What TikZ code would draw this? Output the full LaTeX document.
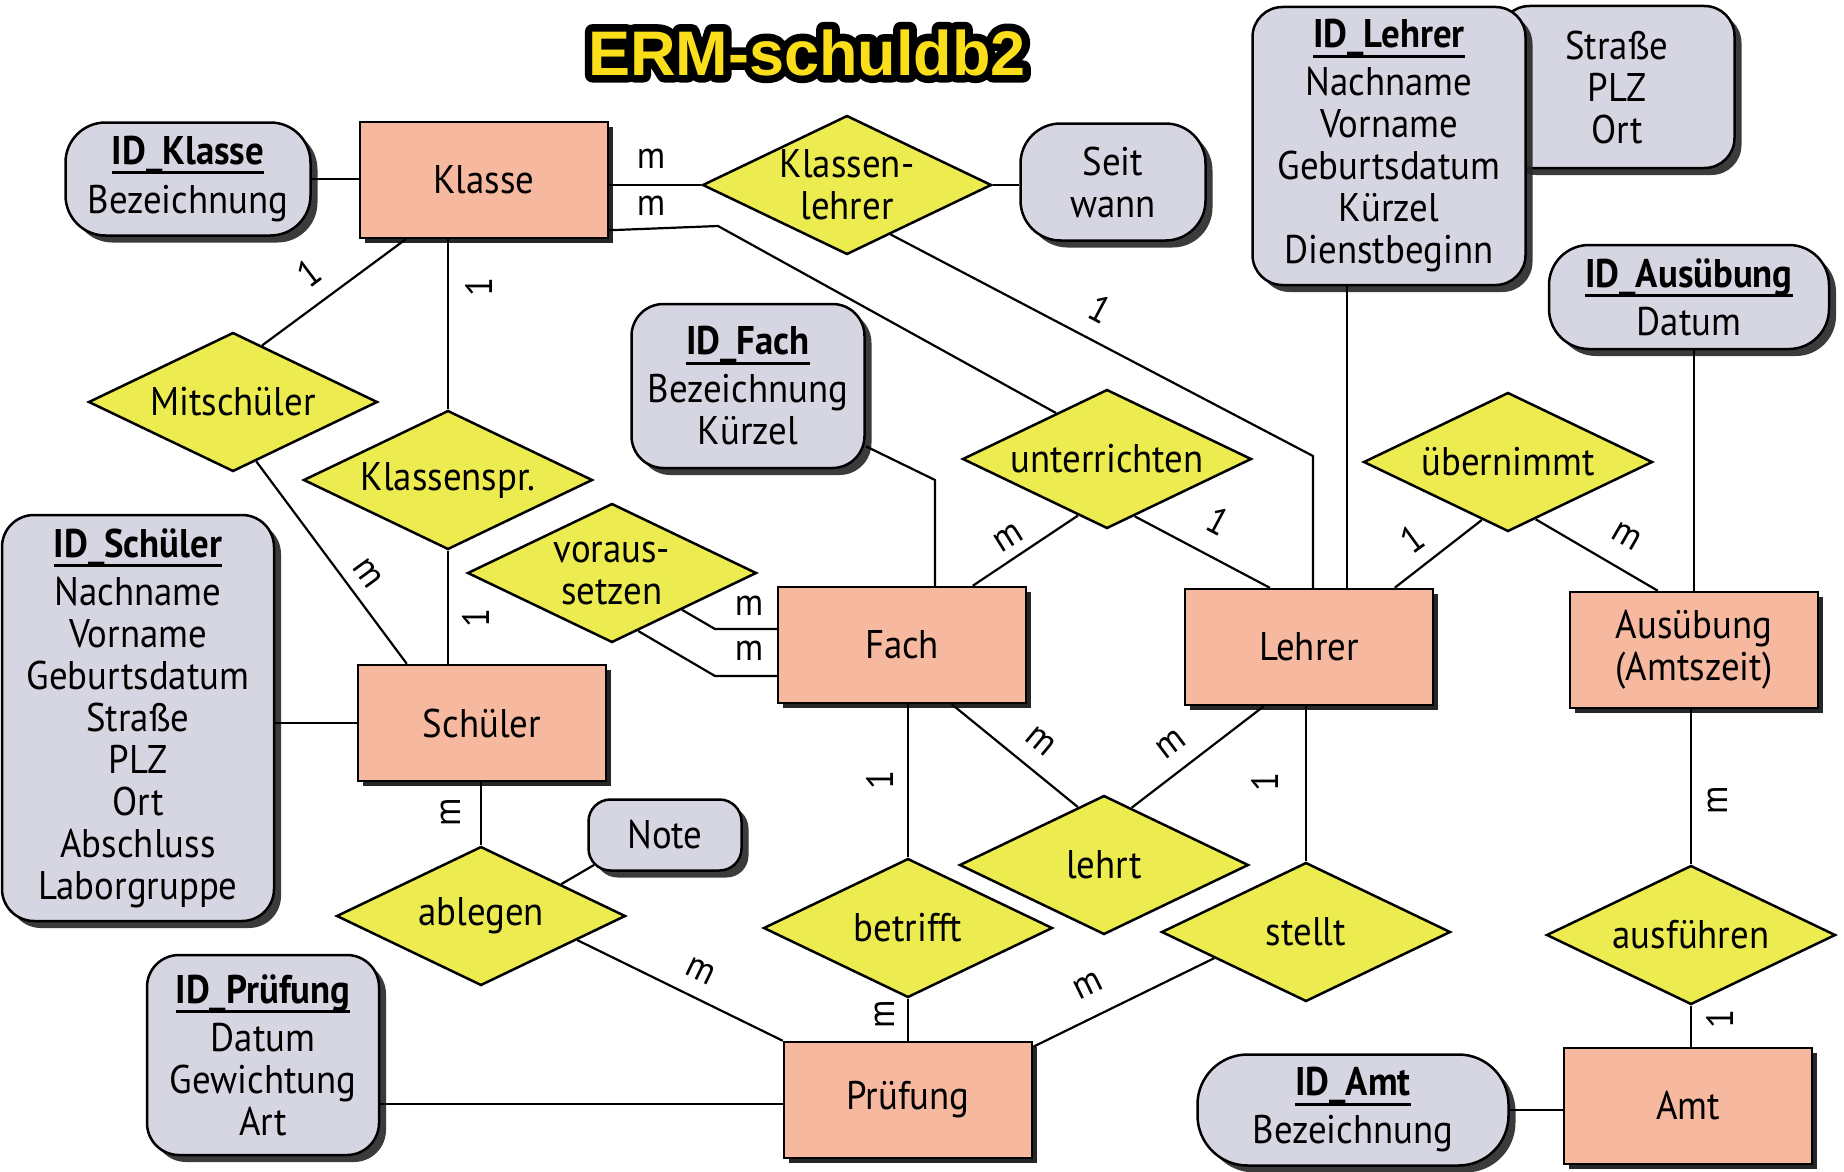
\documentclass[tikz,border=0pt]{standalone}
\usepackage{fontspec}
\setmainfont{PT Sans}[FakeStretch=0.92]
\newfontfamily\titlefam{Liberation Sans}
\usetikzlibrary{shapes.geometric,calc,shadows}
\definecolor{entfill}{RGB}{246,184,158}
\definecolor{attfill}{RGB}{214,214,226}
\definecolor{relfill}{RGB}{236,236,80}
\definecolor{titley}{RGB}{250,222,26}
\newcommand\ulkey[1]{\setbox0=\hbox{\bfseries #1}\rlap{\rule[-10pt]{\wd0}{3pt}}\box0}
\tikzset{
 erbase/.style={line width=2.5pt, draw=black, align=center, inner sep=0pt, font=\fontsize{40}{42}\selectfont},
 entity/.style={erbase, rectangle, fill=entfill, minimum width=248pt, minimum height=116pt,
   drop shadow={shadow xshift=5pt,shadow yshift=-5pt,fill=black,opacity=0.85}},
 attr/.style={erbase, rectangle, rounded corners=#1, fill=attfill,
   drop shadow={shadow xshift=7pt,shadow yshift=-7pt,fill=black!85,opacity=0.9}},
 attr/.default=32pt,
 rel/.style={erbase, diamond, shape aspect=2.08, inner sep=-12pt, fill=relfill, minimum width=289pt, minimum height=139pt},
 conn/.style={line width=2.2pt, draw=black},
 card/.style={font=\fontsize{38}{40}\selectfont, inner sep=0pt},
 titlestyle/.style={font=\titlefam\bfseries\fontsize{63}{70}\selectfont, anchor=base, inner sep=0pt},
}
\begin{document}
\begin{tikzpicture}[x=1pt,y=-1pt]
\useasboundingbox (0,0) rectangle (1844,1172);
\fill[white] (0,0) rectangle (1844,1172);

% title: thick black outline drawn as stroked text, yellow text on top
\coordinate (titlepos) at (807,75);
\node[titlestyle,text=black] (titleoutline) at (titlepos) {\special{pdf:literal direct 2 Tr 15 w 1 j}ERM-schuldb2\special{pdf:literal direct 0 Tr}};
\node[titlestyle,text=titley] (title) at (titlepos) {ERM-schuldb2};

% attributes
\node[attr=40pt, minimum width=245pt, minimum height=113pt] (idklasse) at (188,179) {\ulkey{ID\_Klasse}\\[7pt]Bezeichnung};
\node[attr=40pt, minimum width=185pt, minimum height=117pt] (seitwann) at (1113,182) {Seit\\wann};
\node[attr=30pt, minimum width=235pt, minimum height=162pt] (strasse) at (1617,87) {Straße\\PLZ\\Ort};
\node[attr=30pt, minimum width=273pt, minimum height=278pt] (idlehrer) at (1389,146) {\ulkey{ID\_Lehrer}\\[6pt]Nachname\\Vorname\\Geburtsdatum\\Kürzel\\Dienstbeginn};
\node[attr=40pt, minimum width=280pt, minimum height=104pt] (idausuebung) at (1689,297) {\ulkey{ID\_Ausübung}\\[6pt]Datum};
\node[attr=32pt, minimum width=233pt, minimum height=164pt] (idfach) at (748,386) {\ulkey{ID\_Fach}\\[6pt]Bezeichnung\\Kürzel};
\node[attr=32pt, minimum width=272pt, minimum height=406pt] (idschueler) at (138,718) {\ulkey{ID\_Schüler}\\[6pt]Nachname\\Vorname\\Geburtsdatum\\Straße\\PLZ\\Ort\\Abschluss\\Laborgruppe};
\node[attr=22pt, minimum width=153pt, minimum height=71pt] (note) at (665,835) {Note};
\node[attr=32pt, minimum width=232pt, minimum height=200pt] (idpruefung) at (263,1055) {\ulkey{ID\_Prüfung}\\[6pt]Datum\\Gewichtung\\Art};
\node[attr=50pt, minimum width=311pt, minimum height=111pt] (idamt) at (1353,1110) {\ulkey{ID\_Amt}\\[6pt]Bezeichnung};

% entities
\node[entity] (klasse) at (484,180) {Klasse};
\node[entity] (schueler) at (482,723) {Schüler};
\node[entity] (fach) at (902,645) {Fach};
\node[entity] (lehrer) at (1309,647) {Lehrer};
\node[entity] (ausuebung) at (1694,650) {Ausübung\\(Amtszeit)};
\node[entity] (pruefung) at (908,1100) {Prüfung};
\node[entity] (amt) at (1688,1106) {Amt};

% relationships
\node[rel] (kl) at (847,185) {Klassen-\\lehrer};
\node[rel] (mit) at (233,402) {Mitschüler};
\node[rel] (kspr) at (448,480) {Klassenspr.};
\node[rel] (vor) at (612,573) {voraus-\\setzen};
\node[rel] (unt) at (1107,459) {unterrichten};
\node[rel] (ueb) at (1508,462) {übernimmt};
\node[rel] (abl) at (481,916) {ablegen};
\node[rel] (betr) at (908,928) {betrifft};
\node[rel] (lehrt) at (1104,865) {lehrt};
\node[rel] (st) at (1306,932) {stellt};
\node[rel] (aus) at (1691,935) {ausführen};

% helper coordinates
\coordinate (kbend) at (718,226);
\coordinate (lbend) at (1313,456);
\coordinate (v1) at (715,629);
\coordinate (v2) at (715,676);
\coordinate (fbend) at (935,480);
\coordinate (lx) at (1347,300);
\coordinate (notecorner) at (594,865);
\coordinate (pq) at (379,1104);

% connectors
\draw[conn] (idklasse.east) -- (idklasse.east -| klasse.west);
\draw[conn] (kl.west -| klasse.east) -- (kl.west);
\draw[conn] (kl.east) -- (kl.east -| seitwann.west);
\draw[conn] ($(klasse.south east)+(0,-9)$) -- (kbend) -- ($(unt.west)!0.65!(unt.north)$);
\draw[conn] ($(kl.south)!0.3!(kl.east)$) -- (lbend) -- (lbend |- lehrer.north);
\draw[conn] ($(klasse.south west)+(47,0)$) -- ($(mit.north)!0.2!(mit.east)$);
\draw[conn] (kspr.north |- klasse.south) -- (kspr.north);
\draw[conn] ($(mit.south)!0.16!(mit.east)$) -- ($(schueler.north west)+(50,0)$);
\draw[conn] (kspr.south) -- (kspr.south |- schueler.north);
\draw[conn] (idschueler.east |- schueler.west) -- (schueler.west);
\draw[conn] ($(vor.south)!0.48!(vor.east)$) -- (v1) -- (v1 -| fach.west);
\draw[conn] ($(vor.south)!0.18!(vor.east)$) -- (v2) -- (v2 -| fach.west);
\draw[conn] ($(idfach.south east)+(0,-23)$) -- (fbend) -- (fbend |- fach.north);
\draw[conn] ($(fach.north west)+(196,0)$) -- ($(unt.west)!0.8!(unt.south)$);
\draw[conn] ($(unt.south)!0.19!(unt.east)$) -- ($(lehrer.north west)+(86,0)$);
\draw[conn] (lx |- idlehrer.south) -- (lx |- lehrer.north);
\draw[conn] ($(lehrer.north west)+(211,0)$) -- ($(ueb.west)!0.82!(ueb.south)$);
\draw[conn] ($(ueb.south)!0.19!(ueb.east)$) -- ($(ausuebung.north west)+(89,0)$);
\draw[conn] (ausuebung.north |- idausuebung.south) -- (ausuebung.north);
\draw[conn] (abl.north |- schueler.south) -- (abl.north);
\draw[conn] ($(abl.north)!0.55!(abl.east)$) -- (notecorner);
\draw[conn] ($(abl.south)!0.66!(abl.east)$) -- (pruefung.north west);
\draw[conn] (pq) -- (pq -| pruefung.west);
\draw[conn] (betr.north |- fach.south) -- (betr.north);
\draw[conn] (betr.south) -- (betr.south |- pruefung.north);
\draw[conn] ($(fach.south west)+(175,0)$) -- ($(lehrt.west)!0.82!(lehrt.north)$);
\draw[conn] ($(lehrer.south west)+(80,0)$) -- ($(lehrt.north)!0.19!(lehrt.east)$);
\draw[conn] (st.north |- lehrer.south) -- (st.north);
\draw[conn] ($(st.west)!0.37!(st.south)$) -- ($(pruefung.north east)+(0,6)$);
\draw[conn] (aus.north |- ausuebung.south) -- (aus.north);
\draw[conn] (aus.south) -- (aus.south |- amt.north);
\draw[conn] (idamt.east) -- (idamt.east -| amt.west);

% cardinalities
\node[card] (c1) at (651,159) {m};
\node[card] (c2) at (651,206) {m};
\node[card,rotate=-28] (c3) at (1100,309) {1};
\node[card,rotate=37] (c4) at (309,273) {1};
\node[card,rotate=90] (c5) at (479,287) {1};
\node[card,rotate=-54] (c6) at (368,573) {m};
\node[card,rotate=90] (c7) at (476,618) {1};
\node[card] (c8) at (749,606) {m};
\node[card] (c9) at (749,651) {m};
\node[card,rotate=32] (c10) at (1008,538) {m};
\node[card,rotate=-28] (c11) at (1218,521) {1};
\node[card,rotate=36] (c12) at (1412,539) {1};
\node[card,rotate=-30] (c13) at (1627,536) {m};
\node[card,rotate=90] (c14) at (451,812) {m};
\node[card,rotate=-26] (c15) at (701,971) {m};
\node[card,rotate=90] (c16) at (880,780) {1};
\node[card,rotate=90] (c17) at (885,1014) {m};
\node[card,rotate=-40] (c18) at (1041,741) {m};
\node[card,rotate=37] (c19) at (1171,744) {m};
\node[card,rotate=90] (c20) at (1265,782) {1};
\node[card,rotate=26] (c21) at (1088,986) {m};
\node[card,rotate=90] (c22) at (1718,800) {m};
\node[card,rotate=90] (c23) at (1720,1019) {1};
\end{tikzpicture}
\end{document}
